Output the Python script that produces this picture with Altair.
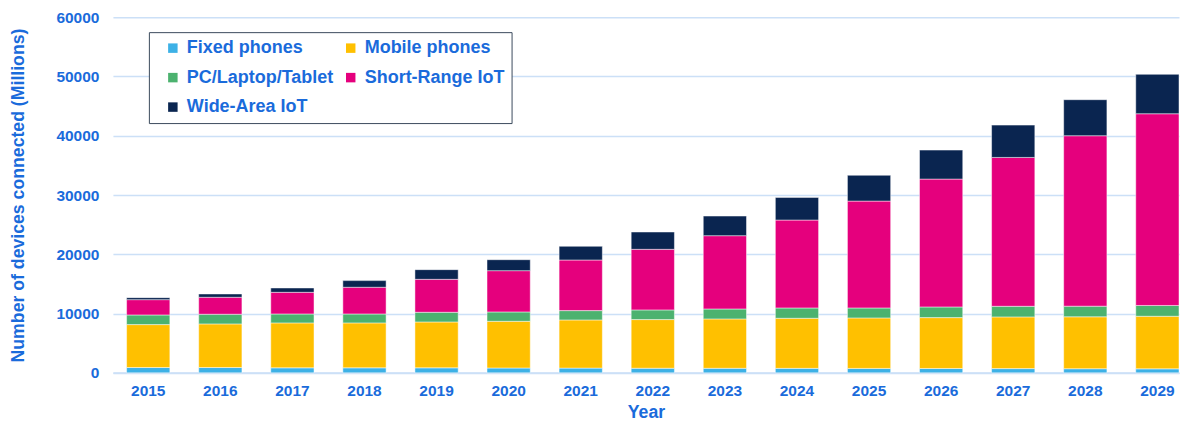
import altair as alt
import pandas as pd

years = [str(y) for y in range(2015, 2030)]
categories = ["Fixed phones", "Mobile phones", "PC/Laptop/Tablet", "Short-Range IoT", "Wide-Area IoT"]

fixed_phones = [900, 900, 850, 850, 850, 820, 800, 780, 770, 760, 750, 740, 720, 700, 680]
mobile_phones = [7240, 7360, 7580, 7580, 7740, 7880, 8130, 8210, 8330, 8450, 8520, 8580, 8720, 8760, 8870]
pc_laptop_tablet = [1630, 1630, 1510, 1510, 1630, 1580, 1570, 1630, 1680, 1740, 1680, 1800, 1790, 1790, 1820]
short_range_iot = [2580, 2860, 3650, 4500, 5560, 6960, 8540, 10220, 12360, 14830, 18030, 21570, 25110, 28750, 32340]
wide_area_iot = [340, 560, 730, 1120, 1630, 1850, 2310, 2920, 3310, 3820, 4350, 4890, 5450, 6080, 6650]

colors = ["#3DB1E6", "#FFC000", "#4CB26F", "#E5007D", "#0A2550"]
y_ticks = [0, 10000, 20000, 30000, 40000, 50000, 60000]

series = [fixed_phones, mobile_phones, pc_laptop_tablet, short_range_iot, wide_area_iot]
rows = []
for i, (cat, vals) in enumerate(zip(categories, series)):
    for yr, v in zip(years, vals):
        rows.append({"Year": yr, "Category": cat, "Value": v, "Order": i})
df = pd.DataFrame(rows)

BLUE = "#1A6BDB"
GRID = "#CCE0F7"
FONT = "Liberation Sans"

chart = (
    alt.Chart(df)
    .mark_bar(stroke="white", strokeWidth=0.8, strokeOpacity=0.6)
    .encode(
        x=alt.X(
            "Year:N",
            title="Year",
            scale=alt.Scale(paddingInner=0.4, paddingOuter=0.095, align=1),
            axis=alt.Axis(labelAngle=0, ticks=False, tickSize=0, domainColor=GRID,
                          domainWidth=2, labelPadding=11, titlePadding=4),
        ),
        y=alt.Y(
            "Value:Q",
            title="Number of devices connected (Millions)",
            stack="zero",
            scale=alt.Scale(domain=[0, 60000], nice=False),
            axis=alt.Axis(values=y_ticks, format="d", domain=False, ticks=False, tickSize=0,
                          labelPadding=14, titlePadding=28, gridColor=GRID, gridWidth=1.5),
        ),
        color=alt.Color(
            "Category:N",
            scale=alt.Scale(domain=categories, range=colors),
            legend=alt.Legend(
                title=None, orient="none", legendX=36, legendY=15, columns=2,
                direction="horizontal",
                symbolType="square", symbolSize=90, symbolStrokeWidth=0,
                labelFontSize=18, labelFont=FONT, labelFontWeight="bold", labelColor=BLUE,
                strokeColor="#3B4A5C", fillColor="white", padding=7,
                rowPadding=11.5, columnPadding=0, symbolOffset=8, labelOffset=5,
            ),
        ),
        order=alt.Order("Order:Q", sort="ascending"),
    )
    .properties(width=1067, height=356,
                padding={"left": 1, "top": 2, "right": 0, "bottom": 0})
    .configure_axis(labelFont=FONT, labelFontSize=15.5, labelFontWeight="bold", labelColor=BLUE,
                    titleFont=FONT, titleFontSize=17.7, titleFontWeight="bold", titleColor=BLUE)
    .configure_view(stroke=None)
)

chart.save("out.html", embed_options={"renderer": "svg", "actions": False})
